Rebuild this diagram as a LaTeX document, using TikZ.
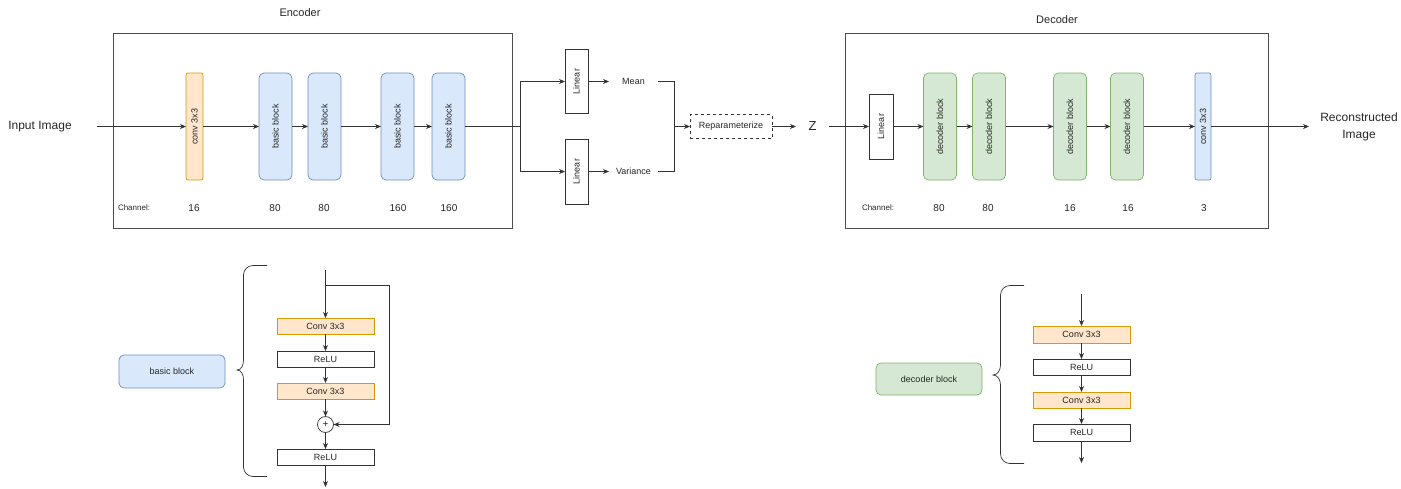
\documentclass[tikz,border=0pt]{standalone}
\usepackage{fontspec}
\setmainfont{Liberation Sans}
\usetikzlibrary{arrows.meta}
\definecolor{convfill}{HTML}{FFE6CC}
\definecolor{convdraw}{HTML}{D79B00}
\definecolor{bbfill}{HTML}{DAE8FC}
\definecolor{bbdraw}{HTML}{6C8EBF}
\definecolor{dbfill}{HTML}{D5E8D4}
\definecolor{dbdraw}{HTML}{82B366}
\definecolor{ln}{HTML}{333333}
\tikzset{
  every node/.style={inner sep=0pt, outer sep=0pt, font=\fontsize{9}{11}\selectfont, text=black!85},
  convbox/.style={draw=convdraw, fill=convfill, line width=0.8pt},
  bbox/.style={draw=bbdraw, fill=bbfill, rounded corners=5pt, line width=0.7pt},
  dbox/.style={draw=dbdraw, fill=dbfill, rounded corners=5pt, line width=0.7pt},
  plainbox/.style={draw=ln, fill=white, line width=0.7pt},
  frame/.style={draw=black!70, line width=0.8pt},
  arr/.style={draw=ln, line width=0.7pt, -{Stealth[length=6pt,width=5pt,inset=2pt]}},
  ln/.style={draw=ln, line width=0.7pt},
  tall/.style={minimum height=107pt},
}
\begin{document}
\begin{tikzpicture}[x=1pt,y=-1pt]
\useasboundingbox (0,0) rectangle (1401,488);
% ---------- Encoder ----------
\node (enct) at (300,13) {\fontsize{11}{13}\selectfont Encoder};
\node[frame, minimum width=399pt, minimum height=195pt] (encf) at (312.5,130.5) {};
\node[minimum width=114pt] (inp) at (40,126.5) {\fontsize{12}{14}\selectfont Input Image};
\node[convbox, rounded corners=2pt, tall, minimum width=17pt] (conv) at (194.5,126.5) {\rotatebox{90}{conv 3x3}};
\node[bbox, tall, minimum width=33pt] (bb1) at (275.5,126.5) {\rotatebox{90}{basic block}};
\node[bbox, tall, minimum width=33pt] (bb2) at (324.5,126.5) {\rotatebox{90}{basic block}};
\node[bbox, tall, minimum width=33pt] (bb3) at (397.5,126.5) {\rotatebox{90}{basic block}};
\node[bbox, tall, minimum width=33pt] (bb4) at (448.5,126.5) {\rotatebox{90}{basic block}};
\node[anchor=west, font=\fontsize{8}{10}\selectfont] (ch1) at (118,208) {Channel:};
\node[font=\fontsize{10}{12}\selectfont] (e1) at (194,208) {16};
\node[font=\fontsize{10}{12}\selectfont] (e2) at (275,208) {80};
\node[font=\fontsize{10}{12}\selectfont] (e3) at (324,208) {80};
\node[font=\fontsize{10}{12}\selectfont] (e4) at (398,208) {160};
\node[font=\fontsize{10}{12}\selectfont] (e5) at (449,208) {160};
\draw[arr] (inp.east) -- (conv.west);
\draw[arr] (conv) -- (bb1);
\draw[arr] (bb1) -- (bb2);
\draw[arr] (bb2) -- (bb3);
\draw[arr] (bb3) -- (bb4);
\coordinate (split) at (520.5,126.5);
\draw[ln] (bb4.east) -- (split);
% ---------- latent ----------
\node[plainbox, minimum width=23pt, minimum height=64pt] (lin1) at (576.5,81.5) {\rotatebox{90}{Linear}};
\node[plainbox, minimum width=23pt, minimum height=65pt] (lin2) at (576.5,171.5) {\rotatebox{90}{Linear}};
\draw[arr] (split) |- (lin1.west);
\draw[arr] (split) |- (lin2.west);
\node[minimum width=49pt] (mean) at (633.5,81.5) {Mean};
\node[minimum width=49pt] (var) at (633.5,171.5) {Variance};
\draw[arr] (lin1.east) -- (mean.west);
\draw[arr] (lin2.east) -- (var.west);
\node[plainbox, dashed, minimum width=82pt, minimum height=24pt] (rep) at (731,126.5) {Reparameterize};
\coordinate (join) at (674.5,126.5);
\draw[ln] (mean.east) -| (join);
\draw[ln] (var.east) -| (join);
\draw[arr] (join) -- (rep.west);
\node[minimum width=33pt] (z) at (812.5,126.5) {\fontsize{13}{15}\selectfont Z};
\draw[arr] (rep.east) -- (z.west);
% ---------- Decoder ----------
\node (dect) at (1057,20) {\fontsize{11}{13}\selectfont Decoder};
\node[frame, minimum width=423pt, minimum height=195pt] (decf) at (1056.5,130.5) {};
\node[plainbox, minimum width=24pt, minimum height=65pt] (dlin) at (881,126.5) {\rotatebox{90}{Linear}};
\node[dbox, tall, minimum width=33pt] (db1) at (940,126.5) {\rotatebox{90}{decoder block}};
\node[dbox, tall, minimum width=33pt] (db2) at (989,126.5) {\rotatebox{90}{decoder block}};
\node[dbox, tall, minimum width=33pt] (db3) at (1070,126.5) {\rotatebox{90}{decoder block}};
\node[dbox, tall, minimum width=33pt] (db4) at (1127,126.5) {\rotatebox{90}{decoder block}};
\node[bbox, rounded corners=2pt, tall, minimum width=16pt] (dconv) at (1203,126.5) {\rotatebox{90}{conv 3x3}};
\node[minimum width=100pt, align=center, font=\fontsize{12}{17}\selectfont] (rec) at (1359,126.5) {Reconstructed\\Image};
\node[anchor=west, font=\fontsize{8}{10}\selectfont] (ch2) at (862,208) {Channel:};
\node[font=\fontsize{10}{12}\selectfont] (d1) at (939,208) {80};
\node[font=\fontsize{10}{12}\selectfont] (d2) at (988,208) {80};
\node[font=\fontsize{10}{12}\selectfont] (d3) at (1070,208) {16};
\node[font=\fontsize{10}{12}\selectfont] (d4) at (1128,208) {16};
\node[font=\fontsize{10}{12}\selectfont] (d5) at (1204,208) {3};
\draw[arr] (z.east) -- (dlin.west);
\draw[arr] (dlin) -- (db1);
\draw[arr] (db1) -- (db2);
\draw[arr] (db2) -- (db3);
\draw[arr] (db3) -- (db4);
\draw[arr] (db4) -- (dconv);
\draw[arr] (dconv.east) -- (rec.west);
% ---------- basic block detail ----------
\node[bbox, minimum width=106pt, minimum height=33pt] (lbb) at (172,371.5) {basic block};
\draw[ln] (267,265.5) -- (253,265.5) to[out=180,in=90] (243.5,275) -- (243.5,360) to[out=270,in=0] (237,370) to[out=0,in=90] (243.5,380) -- (243.5,467) to[out=270,in=180] (253,476.5) -- (267,476.5);
\coordinate (btop) at (325.5,270);
\coordinate (bskip) at (325.5,285.5);
\coordinate (bbot) at (325.5,487);
\node[convbox, minimum width=97pt, minimum height=16pt] (bc1) at (325.5,326) {Conv 3x3};
\node[plainbox, minimum width=97pt, minimum height=16pt] (br1) at (325.5,359) {ReLU};
\node[convbox, minimum width=97pt, minimum height=16pt] (bc2) at (325.5,391) {Conv 3x3};
\node[plainbox, circle, minimum size=16pt, font=\fontsize{10}{12}\selectfont] (plus) at (325.5,424.5) {+};
\node[plainbox, minimum width=97pt, minimum height=16pt] (br2) at (325.5,457) {ReLU};
\draw[arr] (btop) -- (bc1.north);
\draw[arr] (bc1) -- (br1);
\draw[arr] (br1) -- (bc2);
\draw[arr] (bc2) -- (plus);
\draw[arr] (plus) -- (br2);
\draw[arr] (br2) -- (bbot);
\draw[arr] (bskip) -- (389.5,285.5) |- (plus.east);
% ---------- decoder block detail ----------
\node[dbox, minimum width=106pt, minimum height=32pt] (ldb) at (929,379) {decoder block};
\draw[ln] (1024,285.5) -- (1010,285.5) to[out=180,in=90] (1000.5,295) -- (1000.5,365) to[out=270,in=0] (993,375) to[out=0,in=90] (1000.5,385) -- (1000.5,454) to[out=270,in=180] (1010,463.5) -- (1024,463.5);
\coordinate (dtop) at (1081.5,294);
\coordinate (dbot) at (1081.5,463);
\node[convbox, minimum width=97pt, minimum height=17pt] (dc1) at (1081.5,334.5) {Conv 3x3};
\node[plainbox, minimum width=97pt, minimum height=16pt] (dr1) at (1081.5,367) {ReLU};
\node[convbox, minimum width=97pt, minimum height=16pt] (dc2) at (1081.5,400) {Conv 3x3};
\node[plainbox, minimum width=97pt, minimum height=17pt] (dr2) at (1081.5,432.5) {ReLU};
\draw[arr] (dtop) -- (dc1.north);
\draw[arr] (dc1) -- (dr1);
\draw[arr] (dr1) -- (dc2);
\draw[arr] (dc2) -- (dr2);
\draw[arr] (dr2) -- (dbot);
\end{tikzpicture}
\end{document}
